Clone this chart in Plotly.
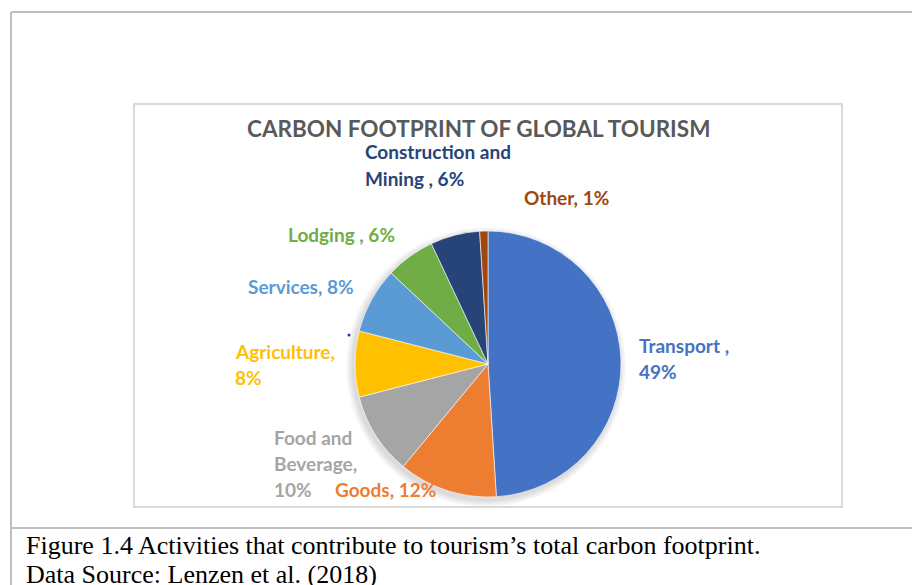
import plotly.graph_objects as go

W, H = 912, 585

# Shares of tourism's carbon footprint by activity (%)
categories = ["Transport ", "Goods", "Food and Beverage", "Agriculture",
              "Services", "Lodging ", "Construction and Mining ", "Other"]
shares = [49, 12, 10, 8, 8, 6, 6, 1]
colors = ["#4472C4", "#ED7D31", "#A5A5A5", "#FFC000",
          "#5B9BD5", "#70AD47", "#264478", "#9E480E"]

title_text = "CARBON FOOTPRINT OF GLOBAL TOURISM"
caption_lines = ["Figure 1.4 Activities that contribute to tourism\u2019s total carbon footprint.",
                 "Data Source: Lenzen et al. (2018)"]

# Data-label placement (pixels): left x, centre y of first line, words per line
label_layout = {
    "Transport ": (637, 345, [2, 1]),
    "Goods": (333, 489, [2]),
    "Food and Beverage": (272, 437, [2, 1, 1]),
    "Agriculture": (233, 351, [1, 1]),
    "Services": (246, 286, [2]),
    "Lodging ": (286, 234, [3]),
    "Construction and Mining ": (363, 152, [2, 3]),
    "Other": (522, 197, [2]),
}
LINE_GAP = 26

# Pie geometry (pixels)
CX, CY, R = 488, 364, 133


def px(x):
    return x / W


def py(y):
    return 1 - y / H


fig = go.Figure()
fig.add_trace(go.Pie(
    labels=categories,
    values=shares,
    sort=False,
    direction="clockwise",
    rotation=0,
    textinfo="none",
    hoverinfo="label+percent",
    marker=dict(colors=colors, line=dict(color="white", width=0.6)),
    domain=dict(x=[px(CX - R), px(CX + R)], y=[py(CY + R), py(CY - R)]),
    showlegend=False,
))

annotations = []
for cat, val, col in zip(categories, shares, colors):
    words = f"{cat}, {val}%".split()
    x0, y0, per_line = label_layout[cat]
    i = 0
    for k, n in enumerate(per_line):
        line = " ".join(words[i:i + n])
        i += n
        annotations.append(dict(
            x=px(x0), y=py(y0 + k * LINE_GAP), xref="paper", yref="paper",
            text=line, showarrow=False, xanchor="left", yanchor="middle",
            font=dict(family="Lato", size=19, color=col, weight="bold"),
        ))

annotations.append(dict(
    x=px(478), y=py(128), xref="paper", yref="paper", text=title_text,
    showarrow=False, xanchor="center", yanchor="middle",
    font=dict(family="Lato", size=22.5, color="#595959", weight="bold"),
))

for k, line in enumerate(caption_lines):
    annotations.append(dict(
        x=px(24), y=py(545 + k * 29), xref="paper", yref="paper", text=line,
        showarrow=False, xanchor="left", yanchor="middle",
        font=dict(family="Liberation Serif", size=26, color="#000000"),
    ))

shapes = []
# soft shadow under the pie
for k in range(6):
    rr = R + 1 + k * 1.2
    shapes.append(dict(
        type="circle", xref="paper", yref="paper", layer="below",
        x0=px(CX - 2 - rr), x1=px(CX - 2 + rr),
        y0=py(CY + 3 + rr), y1=py(CY + 3 - rr),
        fillcolor="rgba(0,0,0,0.025)", line=dict(width=0),
    ))
# chart area frame
shapes.append(dict(type="rect", xref="paper", yref="paper", layer="below",
                   x0=px(134), x1=px(842), y0=py(507), y1=py(104),
                   line=dict(color="#D9D9D9", width=2), fillcolor="rgba(0,0,0,0)"))
# page frame lines
frame = "#BFBFBF"
shapes.append(dict(type="line", xref="paper", yref="paper", x0=px(11), x1=1,
                   y0=py(12), y1=py(12), line=dict(color=frame, width=2)))
shapes.append(dict(type="line", xref="paper", yref="paper", x0=px(11), x1=px(11),
                   y0=py(12), y1=0, line=dict(color=frame, width=2)))
shapes.append(dict(type="line", xref="paper", yref="paper", x0=px(11), x1=1,
                   y0=py(528), y1=py(528), line=dict(color=frame, width=2)))
# small marker dot beside the pie
shapes.append(dict(type="circle", xref="paper", yref="paper",
                   x0=px(347.5), x1=px(350.5), y0=py(336.5), y1=py(333.5),
                   fillcolor="#1F2FD0", line=dict(width=0)))

fig.update_layout(
    width=W, height=H,
    margin=dict(l=0, r=0, t=0, b=0),
    paper_bgcolor="white", plot_bgcolor="white",
    annotations=annotations, shapes=shapes,
)

fig.write_html("out.html")
